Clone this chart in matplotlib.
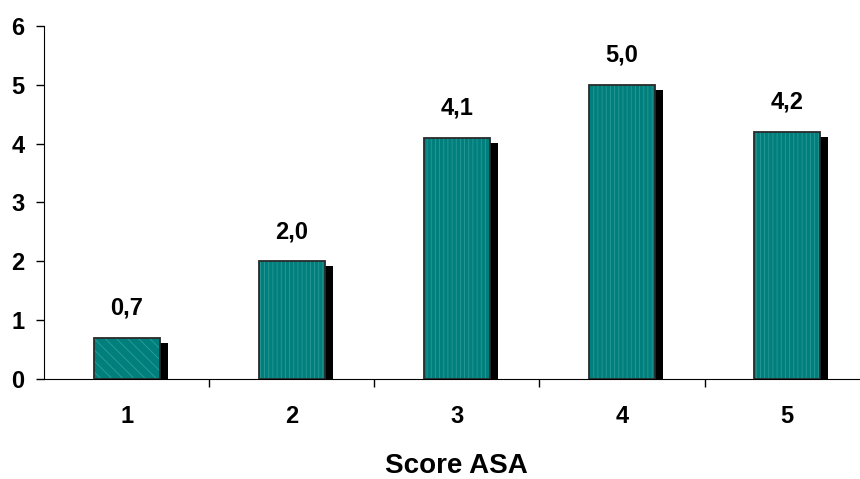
import numpy as np
import matplotlib.pyplot as plt

plt.rcParams['font.family'] = ['Liberation Sans', 'DejaVu Sans']
plt.rcParams['font.weight'] = 'bold'
plt.rcParams['hatch.linewidth'] = 0.6

scores = [1, 2, 3, 4, 5]
values = [0.7, 2.0, 4.1, 5.0, 4.2]
labels = ['0,7', '2,0', '4,1', '5,0', '4,2']

fig = plt.figure(figsize=(8.6, 4.79), dpi=100)
ax = fig.add_axes([0.0512, 0.209, 0.96, 0.737])

x = np.array(scores, dtype=float)
w = 0.4
teal = '#007f7d'

# drop shadow behind each bar
ax.bar(x + 0.05, np.array(values) - 0.085, width=w, color='black', zorder=1)

# bar fill: first bar with diagonal texture, the rest with fine streaks
for i, (xi, v) in enumerate(zip(x, values)):
    if i == 0:
        ax.bar(xi, v, width=w, color=teal, hatch='\\\\\\', edgecolor='#2f9e9a',
               linewidth=0, zorder=2)
    else:
        ax.bar(xi, v, width=w, color=teal, hatch='||||', edgecolor='#2a9996',
               linewidth=0, zorder=2)
ax.bar(x, values, width=w, fill=False, edgecolor='#2a2a2a', linewidth=1.3, zorder=3)

for xi, v, t in zip(x, values, labels):
    ax.annotate(t, (xi, v), xytext=(0, 13), textcoords='offset points',
                ha='center', va='bottom', fontsize=17, fontweight='bold')

ax.set_xlim(0.5, 5.5)
ax.set_ylim(0, 6)
ax.set_yticks(range(7))
ax.set_xticks(x)
ax.set_xticklabels([str(s) for s in scores])
ax.set_xticks(np.arange(1.5, 5.5, 1), minor=True)
ax.tick_params(axis='x', which='major', length=0, pad=19, labelsize=17)
ax.tick_params(axis='x', which='minor', length=6, width=1)
ax.tick_params(axis='y', length=6, width=1, labelsize=17, pad=8)
for s in ['top', 'right']:
    ax.spines[s].set_visible(False)
ax.set_xlabel('Score ASA', fontsize=20, fontweight='bold', labelpad=18)

fig.savefig('out.png', dpi=100)
